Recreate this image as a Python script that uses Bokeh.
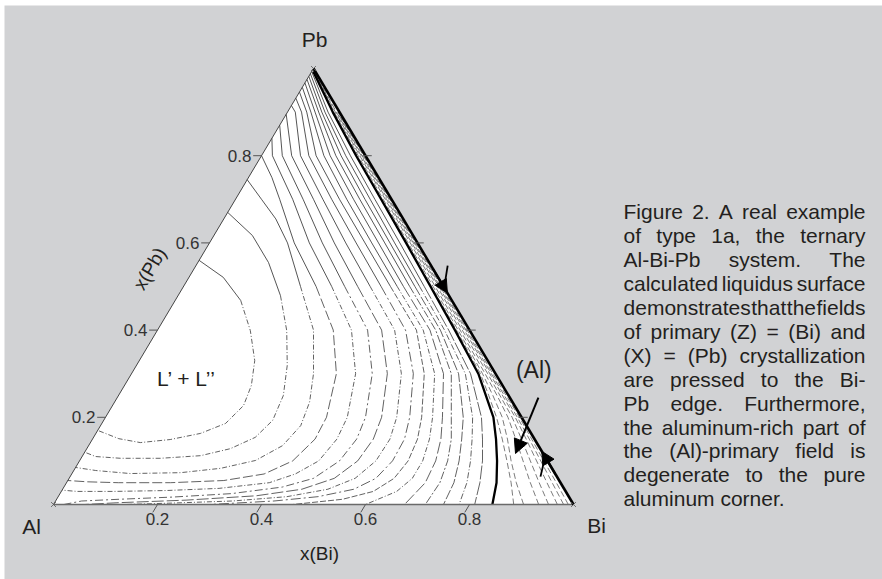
import math
from bokeh.plotting import figure
from bokeh.models import Range1d, Arrow, NormalHead
from bokeh.core.properties import value
from bokeh.embed import file_html
from bokeh.resources import INLINE

# ---------------- chart values: compositions given as (x_Bi, x_Pb) ----------------
corner_names = ["Al", "Bi", "Pb"]
corner_bi = [0.0, 1.0, 0.0]
corner_pb = [0.0, 0.0, 1.0]
tick_values = [0.2, 0.4, 0.6, 0.8]
tick_labels = ["0.2", "0.4", "0.6", "0.8"]
title_bi = "x(Bi)"
title_pb = "x(Pb)"
label_gap = "L’ + L’’"
label_al = "(Al)"

# liquidus isotherms (innermost = miscibility-gap side first)
iso_c1 = [(0.000, 0.560), (0.066, 0.521), (0.126, 0.468), (0.179, 0.399), (0.222, 0.330), (0.244, 0.273),
          (0.252, 0.227), (0.238, 0.186), (0.201, 0.163), (0.150, 0.149), (0.096, 0.142), (0.050, 0.151),
          (0.000, 0.170)]
iso_c2 = [(0.000, 0.670), (0.074, 0.617), (0.136, 0.555), (0.197, 0.479), (0.249, 0.399), (0.290, 0.319),
          (0.317, 0.250), (0.325, 0.193), (0.311, 0.154), (0.276, 0.128), (0.227, 0.112), (0.153, 0.106),
          (0.076, 0.106), (0.026, 0.110), (0.000, 0.120)]
iso_c3 = [(0.000, 0.745), (0.050, 0.700), (0.100, 0.655), (0.150, 0.600), (0.225, 0.500), (0.300, 0.400),
          (0.350, 0.300), (0.375, 0.235), (0.385, 0.181), (0.373, 0.135), (0.338, 0.101), (0.280, 0.083),
          (0.208, 0.073), (0.112, 0.071), (0.042, 0.078), (0.000, 0.085)]
iso_c4 = [(0.000, 0.800), (0.045, 0.750), (0.085, 0.700), (0.163, 0.600), (0.255, 0.500), (0.338, 0.400),
          (0.394, 0.300), (0.425, 0.200), (0.428, 0.150), (0.410, 0.100), (0.370, 0.070), (0.300, 0.055),
          (0.200, 0.050), (0.100, 0.050), (0.040, 0.052), (0.000, 0.055)]
iso_c5 = [(0.000, 0.840), (0.021, 0.800), (0.110, 0.700), (0.192, 0.600), (0.285, 0.500), (0.373, 0.400),
          (0.431, 0.300), (0.465, 0.200), (0.470, 0.150), (0.460, 0.100), (0.430, 0.070), (0.390, 0.050),
          (0.300, 0.037), (0.200, 0.032), (0.100, 0.030), (0.030, 0.030), (0.000, 0.033)]
iso_c6 = [(0.000, 0.870), (0.040, 0.800), (0.130, 0.700), (0.217, 0.600), (0.310, 0.500), (0.404, 0.400),
          (0.463, 0.300), (0.500, 0.200), (0.508, 0.150), (0.500, 0.100), (0.470, 0.060), (0.420, 0.040),
          (0.330, 0.025), (0.220, 0.017), (0.120, 0.012), (0.050, 0.008), (0.020, 0.000)]
iso_c7 = [(0.000, 0.895), (0.058, 0.800), (0.150, 0.700), (0.240, 0.600), (0.335, 0.500), (0.431, 0.400),
          (0.492, 0.300), (0.531, 0.200), (0.540, 0.150), (0.535, 0.100), (0.510, 0.060), (0.460, 0.035),
          (0.380, 0.020), (0.250, 0.010), (0.120, 0.004), (0.060, 0.000)]
iso_c8 = [(0.000, 0.915), (0.015, 0.900), (0.075, 0.800), (0.168, 0.700), (0.262, 0.600), (0.359, 0.500),
          (0.456, 0.400), (0.519, 0.300), (0.560, 0.200), (0.572, 0.150), (0.570, 0.100), (0.550, 0.060),
          (0.510, 0.035), (0.440, 0.018), (0.340, 0.008), (0.220, 0.003), (0.140, 0.000)]
iso_c9 = [(0.000, 0.932), (0.027, 0.900), (0.091, 0.800), (0.185, 0.700), (0.282, 0.600), (0.380, 0.500),
          (0.477, 0.400), (0.542, 0.300), (0.585, 0.200), (0.600, 0.150), (0.602, 0.100), (0.590, 0.060),
          (0.560, 0.035), (0.500, 0.018), (0.420, 0.008), (0.300, 0.000)]
iso_c10 = [(0.000, 0.946), (0.037, 0.900), (0.105, 0.800), (0.200, 0.700), (0.299, 0.600), (0.398, 0.500),
           (0.498, 0.400), (0.563, 0.300), (0.608, 0.200), (0.625, 0.150), (0.632, 0.100), (0.625, 0.060),
           (0.600, 0.030), (0.550, 0.012), (0.460, 0.000)]
iso_c11 = [(0.000, 0.957), (0.045, 0.900), (0.120, 0.800), (0.214, 0.700), (0.312, 0.600), (0.411, 0.500),
           (0.511, 0.400), (0.583, 0.300), (0.629, 0.200), (0.648, 0.150), (0.660, 0.100), (0.660, 0.060),
           (0.645, 0.030), (0.600, 0.000)]
iso_c12 = [(0.000, 0.967), (0.053, 0.900), (0.132, 0.800), (0.227, 0.700), (0.325, 0.600), (0.423, 0.500),
           (0.524, 0.400), (0.600, 0.300), (0.648, 0.200), (0.670, 0.150), (0.685, 0.100), (0.690, 0.050),
           (0.675, 0.000)]
iso_c13 = [(0.000, 0.975), (0.060, 0.900), (0.143, 0.800), (0.239, 0.700), (0.337, 0.600), (0.435, 0.500),
           (0.535, 0.400), (0.615, 0.300), (0.665, 0.200), (0.690, 0.150), (0.708, 0.100), (0.718, 0.050),
           (0.715, 0.000)]
iso_c14 = [(0.000, 0.982), (0.066, 0.900), (0.153, 0.800), (0.249, 0.700), (0.347, 0.600), (0.445, 0.500),
           (0.544, 0.400), (0.629, 0.300), (0.688, 0.200), (0.710, 0.150), (0.730, 0.100), (0.745, 0.050),
           (0.750, 0.000)]
iso_c15 = [(0.000, 0.988), (0.072, 0.900), (0.162, 0.800), (0.259, 0.700), (0.356, 0.600), (0.454, 0.500),
           (0.552, 0.400), (0.642, 0.300), (0.706, 0.200), (0.730, 0.150), (0.752, 0.100), (0.770, 0.050),
           (0.780, 0.000)]
iso_c16 = [(0.000, 0.993), (0.078, 0.900), (0.171, 0.800), (0.268, 0.700), (0.366, 0.600), (0.463, 0.500),
           (0.560, 0.400), (0.652, 0.300), (0.723, 0.200), (0.750, 0.150), (0.775, 0.100), (0.795, 0.050),
           (0.810, 0.000)]

# boundary of the (Al) primary field (thick curve)
al_boundary = [(0.003, 0.993), (0.087, 0.900), (0.182, 0.800), (0.280, 0.700), (0.378, 0.600), (0.475, 0.500),
               (0.572, 0.400), (0.667, 0.300), (0.746, 0.200), (0.776, 0.150), (0.803, 0.100), (0.827, 0.050),
               (0.844, 0.000)]

# isotherms inside the (Al) field, crowding against the Bi-Pb edge
edge_e0 = [(0.885, 0.00), (0.855, 0.05), (0.822, 0.10), (0.788, 0.15), (0.752, 0.20), (0.712, 0.25), (0.671, 0.30),
           (0.575, 0.40), (0.477, 0.50), (0.380, 0.60), (0.282, 0.70), (0.184, 0.80), (0.088, 0.90), (0.006, 0.99)]
edge_e1 = [(0.904, 0.00), (0.865, 0.05), (0.830, 0.10), (0.798, 0.15), (0.763, 0.20), (0.720, 0.25), (0.675, 0.30),
           (0.578, 0.40), (0.480, 0.50), (0.382, 0.60), (0.284, 0.70), (0.186, 0.80), (0.090, 0.90), (0.011, 0.985)]
edge_e2 = [(0.933, 0.00), (0.892, 0.05), (0.853, 0.10), (0.814, 0.15), (0.774, 0.20), (0.728, 0.25), (0.680, 0.30),
           (0.582, 0.40), (0.484, 0.50), (0.386, 0.60), (0.288, 0.70), (0.189, 0.80), (0.092, 0.90), (0.007, 0.99)]
edge_e3 = [(0.952, 0.00), (0.909, 0.05), (0.867, 0.10), (0.825, 0.15), (0.782, 0.20), (0.685, 0.30), (0.586, 0.40),
           (0.488, 0.50), (0.389, 0.60), (0.2905, 0.70), (0.1915, 0.80), (0.094, 0.90), (0.005, 0.993)]
edge_e4 = [(0.969, 0.00), (0.924, 0.05), (0.879, 0.10), (0.834, 0.15), (0.788, 0.20), (0.689, 0.30), (0.590, 0.40),
           (0.491, 0.50), (0.293, 0.70), (0.1935, 0.80), (0.0955, 0.90)]
edge_e5 = [(0.981, 0.00), (0.934, 0.05), (0.887, 0.10), (0.840, 0.15), (0.792, 0.20), (0.692, 0.30), (0.593, 0.40),
           (0.4935, 0.50), (0.295, 0.70), (0.097, 0.90)]
edge_e6 = [(0.990, 0.00), (0.942, 0.05), (0.893, 0.10), (0.796, 0.20), (0.695, 0.30), (0.5955, 0.40),
           (0.496, 0.50), (0.297, 0.70), (0.098, 0.90)]

# arrows: (Al) pointer and the two monovariant-direction arrows on the Bi-Pb edge
al_pointer_from = (0.810, 0.245)
al_pointer_to = (0.830, 0.117)
edge_arrow_upper_pb = (0.540, 0.485)   # along the edge, x_Pb from -> to
edge_arrow_lower_pb = (0.070, 0.122)
edge_stem_upper = [(0.484, 0.548), (0.505, 0.491)]
edge_stem_lower = [(0.9045, 0.064), (0.890, 0.112)]

caption_lines = [
    "Figure 2. A real example",
    "of type 1a, the ternary",
    "Al-Bi-Pb system. The",
    "calculated liquidus surface",
    "demonstrates that the fields",
    "of primary (Z) = (Bi) and",
    "(X) = (Pb) crystallization",
    "are pressed to the Bi-",
    "Pb edge. Furthermore,",
    "the aluminum-rich part of",
    "the (Al)-primary field is",
    "degenerate to the pure",
    "aluminum corner.",
]

# ---------------- drawing ----------------
GRAY = "#d1d2d4"
FONT = value("Liberation Sans")
INK = "#231f20"


def cart(bi, pb):
    return bi + 0.5 * pb, pb


def cart_list(pts):
    xs, ys = [], []
    for b, q in pts:
        x, y = cart(b, q)
        xs.append(x)
        ys.append(y)
    return xs, ys


W, H = 882, 579
BL, BT = 4, 5
x0, x1 = -0.094231, 1.594231
y0, y1 = -0.172018, 1.144495
PXX = (W - BL) / (x1 - x0)
PXY = (H - BT) / (y1 - y0)

p = figure(width=W, height=H, x_range=Range1d(x0, x1), y_range=Range1d(y0, y1),
           output_backend="svg", toolbar_location=None, x_axis_type=None, y_axis_type=None,
           min_border=0, min_border_left=BL, min_border_top=BT,
           background_fill_color=GRAY, border_fill_color="white", outline_line_color=None)

# triangle interior
tx, ty = cart_list(list(zip(corner_bi, corner_pb)))
p.patch(tx, ty, fill_color="white", line_color=None)


def split(pts, thr):
    k = len(pts)
    for i, (b, q) in enumerate(pts):
        if q < thr:
            k = i
            break
    upper = pts[:k]
    lower = pts[max(k - 1, 0):]
    return upper, lower


isotherms = [iso_c1, iso_c2, iso_c3, iso_c4, iso_c5, iso_c6, iso_c7, iso_c8,
             iso_c9, iso_c10, iso_c11, iso_c12, iso_c13, iso_c14, iso_c15, iso_c16]
dashes = ["5 2 1 2", "5 2 1 2", "5 2 1 2", "10 3", "5 2 1 2", "8 3 2 3", "12 3",
          "5 2 1 2", "10 3 2 3", "6 2", "5 2 1 2", "12 3", "8 2 2 2", "10 2", "6 2 1 2", "14 2"]
for curve, dsh in zip(isotherms, dashes):
    up, lo = split(curve, 0.45)
    if len(up) > 1:
        xs, ys = cart_list(up)
        p.line(xs, ys, line_color="#2a2a2a", line_width=0.8)
    if len(lo) > 1:
        xs, ys = cart_list(lo)
        p.line(xs, ys, line_color="#3a3a3a", line_width=0.8, line_dash=dsh)

for curve in [edge_e0, edge_e1, edge_e2, edge_e3, edge_e4, edge_e5, edge_e6]:
    up, lo = split(curve, 0.3)
    xs, ys = cart_list(lo)
    p.line(xs, ys, line_color="#444444", line_width=0.7, line_dash="6 3")
    if len(up) > 1:
        xs, ys = cart_list(up)
        p.line(xs, ys, line_color="#6e6e6e", line_width=0.7)

xs, ys = cart_list(al_boundary)
p.line(xs, ys, line_color="black", line_width=2.3)

# triangle edges
ax, ay = cart_list([(0, 0), (0, 1)])
p.line(ax, ay, line_color="#444444", line_width=1.0)
bx, by = cart_list([(0, 0), (1, 0)])
p.line(bx, by, line_color="#6a6a6a", line_width=1.6)
rx, ry = cart_list([(1, 0), (0, 1)])
p.line(rx, ry, line_color="black", line_width=2.6)

# ticks
seg = dict(x0=[], y0=[], x1=[], y1=[])
for t in tick_values:
    for (b0, q0), (b1, q1) in [((t, 0.0), (t, -0.018)),            # Bi axis
                               ((0.0, t), (-0.016, t)),            # Pb axis
                               ((1 - t - 0.006, t), (1 - t + 0.012, t))]:  # Bi-Pb edge
        a, c = cart(b0, q0)
        d, e = cart(b1, q1)
        seg["x0"].append(a); seg["y0"].append(c); seg["x1"].append(d); seg["y1"].append(e)
p.segment(seg["x0"], seg["y0"], seg["x1"], seg["y1"], line_color="#555555", line_width=1.0)

cx, cy = cart_list(list(zip(corner_bi, corner_pb)))
p.scatter(cx, cy, marker="x", size=7, line_color="#555555", line_width=0.8)

# tick labels (text centred vertically on the given y)
bl_x = [cart(t, 0)[0] for t in tick_values]
bl_y = [-0.0339] * len(tick_values)
p.text(bl_x, bl_y, text=tick_labels, text_font=FONT, text_font_size="17px", text_color="#333333",
       text_align="center", text_baseline="middle")
ll_x = [cart(0, t)[0] - 10 / PXX for t in tick_values]
ll_y = list(tick_values)
p.text(ll_x, ll_y, text=tick_labels, text_font=FONT, text_font_size="17px", text_color="#333333",
       text_align="right", text_baseline="middle")

# corner labels
p.text([-0.0423, 1.0442, 0.502], [-0.0516, -0.0482, 1.0654], text=corner_names, text_font=FONT,
       text_font_size="21px", text_color=INK, text_align="center", text_baseline="middle")

# axis titles
p.text([0.5115], [-0.1124], text=[title_bi], text_font=FONT, text_font_size="19px", text_color=INK,
       text_align="center", text_baseline="middle")
p.text([0.185], [0.541], text=[title_pb], text_font=FONT, text_font_size="19px", text_color=INK,
       text_align="center", text_baseline="middle", angle=math.radians(59.2))

# region labels
p.text([0.2554], [0.289], text=[label_gap], text_font=FONT, text_font_size="21px", text_color=INK,
       text_align="center", text_baseline="middle")
p.text([0.9237], [0.3096], text=[label_al], text_font=FONT, text_font_size="23px", text_color=INK,
       text_align="center", text_baseline="middle")

# arrows
sx, sy = cart(*al_pointer_from)
ex, ey = cart(*al_pointer_to)
p.add_layout(Arrow(end=NormalHead(size=14, fill_color="black", line_color="black"),
                   x_start=sx, y_start=sy, x_end=ex, y_end=ey, line_width=2, line_color="black"))
for pb_from, pb_to in [edge_arrow_upper_pb, edge_arrow_lower_pb]:
    sx, sy = cart(1 - pb_from, pb_from)
    ex, ey = cart(1 - pb_to, pb_to)
    p.add_layout(Arrow(end=NormalHead(size=13, fill_color="black", line_color="black"),
                       x_start=sx, y_start=sy, x_end=ex, y_end=ey, line_width=2, line_color="black"))
for stem in [edge_stem_upper, edge_stem_lower]:
    xs, ys = cart_list(stem)
    p.line(xs, ys, line_color="black", line_width=1.8)

# caption (justified by word placement, Helvetica/Arial metrics)
HELV = {' ': 278, '(': 333, ')': 333, ',': 278, '-': 333, '.': 278, '=': 584,
        'A': 667, 'B': 667, 'C': 722, 'D': 722, 'E': 667, 'F': 611, 'G': 778, 'H': 722, 'I': 278,
        'J': 500, 'K': 667, 'L': 556, 'M': 833, 'N': 722, 'O': 778, 'P': 667, 'Q': 778, 'R': 722,
        'S': 667, 'T': 611, 'U': 722, 'V': 667, 'W': 944, 'X': 667, 'Y': 667, 'Z': 611,
        'a': 556, 'b': 556, 'c': 500, 'd': 556, 'e': 556, 'f': 278, 'g': 556, 'h': 556, 'i': 222,
        'j': 222, 'k': 500, 'l': 222, 'm': 833, 'n': 556, 'o': 556, 'p': 556, 'q': 556, 'r': 333,
        's': 500, 't': 278, 'u': 556, 'v': 500, 'w': 722, 'x': 500, 'y': 500, 'z': 500}
CAP = 21


def tw(s):
    return sum(HELV.get(ch, 556) for ch in s) * CAP / 1000.0


block_left = 1.0962
block_w = 242.0 / PXX
base0 = 0.6709
step = 23.9 / PXY
wx, wy, wt = [], [], []
for i, line in enumerate(caption_lines):
    words = line.split(" ")
    widths = [tw(w) / PXX for w in words]
    if i < len(caption_lines) - 1 and len(words) > 1:
        gap = (block_w - sum(widths)) / (len(words) - 1)
    else:
        gap = tw(" ") / PXX
    x = block_left
    for w, wd in zip(words, widths):
        wx.append(x)
        wy.append(base0 - i * step)
        wt.append(w)
        x += wd + gap
p.text(wx, wy, text=wt, text_font=FONT, text_font_size="21px", text_color=INK,
       text_align="left", text_baseline="middle")

open("out.html", "w").write(file_html(p, INLINE))
